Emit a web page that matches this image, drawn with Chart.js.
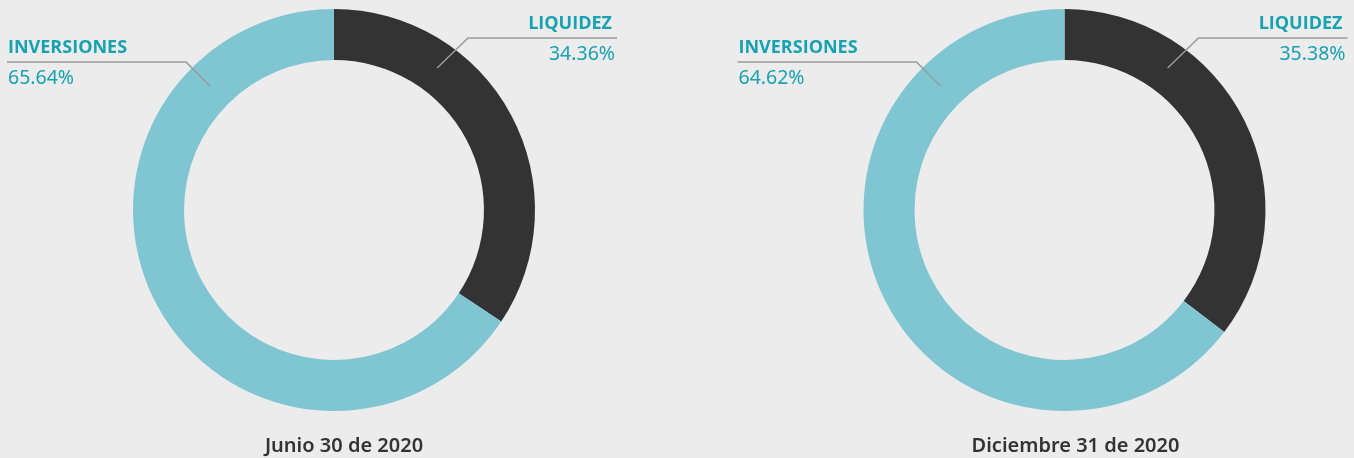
<!DOCTYPE html>
<html>
<head>
<meta charset="utf-8">
<script src="https://cdn.jsdelivr.net/npm/chart.js@4.4.1/dist/chart.umd.min.js"></script>
<style>
  html, body { margin: 0; padding: 0; background: #ececec; }
  .wrap { position: absolute; top: 0; width: 677px; height: 458px; }
  #w1 { left: 0; }
  #w2 { left: 677px; }
  .title {
    position: absolute; top: 435px; width: 677px; text-align: center; line-height: 20px;
    font-family: "Noto Sans", sans-serif; font-weight: 600; font-size: 20px; color: #333;
  }
</style>
</head>
<body>
<div class="wrap" id="w1"><canvas id="c1"></canvas><div class="title" id="t1" style="left:5.5px"></div></div>
<div class="wrap" id="w2"><canvas id="c2"></canvas><div class="title" id="t2" style="left:60px"></div></div>
<script>
// data
const categories = ['LIQUIDEZ', 'INVERSIONES'];
const juneValues = [34.36, 65.64];
const decValues = [35.38, 64.62];
const titles = ['Junio 30 de 2020', 'Diciembre 31 de 2020'];

const colors = ['#333333', '#80c6d2'];
const teal = '#17a2b2';

// label placement, relative to the doughnut centre
const labelPos = [
    // LIQUIDEZ: right aligned, upper right
    { align: 'right', tx: 278, ty: -181, px: 281, py: -150, lx1: 283, lx2: 134, ly: -172, angle: -54 },
    // INVERSIONES: left aligned, upper left
    { align: 'left', tx: -326, ty: -157, px: -326, py: -126, lx1: -327, lx2: -148, ly: -148, angle: -135 }
];

const labelPlugin = {
    id: 'sideLabels',
    afterDraw(chart) {
        let ctx = chart.ctx;
        let arcs = chart.getDatasetMeta(0).data;
        let values = chart.data.datasets[0].data;
        arcs.forEach((arc, i) => {
            let p = labelPos[i];
            let cx = arc.x, cy = arc.y;
            let mid = (arc.outerRadius + arc.innerRadius) / 2;
            let a = p.angle * Math.PI / 180;
            ctx.save();
            ctx.strokeStyle = '#9a9a9a';
            ctx.lineWidth = 1.5;
            ctx.beginPath();
            ctx.moveTo(cx + p.lx1, cy + p.ly);
            ctx.lineTo(cx + p.lx2, cy + p.ly);
            ctx.lineTo(cx + Math.cos(a) * mid, cy + Math.sin(a) * mid);
            ctx.stroke();
            ctx.fillStyle = teal;
            ctx.textAlign = p.align;
            ctx.textBaseline = 'alphabetic';
            ctx.font = 'bold 18px "Open Sans"';
            ctx.fillText(chart.data.labels[i], cx + p.tx, cy + p.ty);
            ctx.font = '19.5px "Noto Sans"';
            ctx.fillText(values[i].toFixed(2) + '%', cx + p.px, cy + p.py);
            ctx.restore();
        });
    }
};

let makeChart = (id, values, pad) => {
    return new Chart(document.getElementById(id), {
        type: 'doughnut',
        data: {
            labels: categories,
            datasets: [{
                data: values,
                backgroundColor: colors,
                borderWidth: 0
            }]
        },
        options: {
            responsive: true,
            maintainAspectRatio: false,
            animation: false,
            cutout: '74.6%',
            layout: { padding: pad },
            plugins: { legend: { display: false }, tooltip: { enabled: false } }
        },
        plugins: [labelPlugin]
    });
};

document.getElementById('t1').textContent = titles[0];
document.getElementById('t2').textContent = titles[1];

makeChart('c1', juneValues, { left: 133, right: 142, top: 9, bottom: 47 });
makeChart('c2', decValues, { left: 186.5, right: 88.5, top: 9, bottom: 47 });
</script>
</body>
</html>
